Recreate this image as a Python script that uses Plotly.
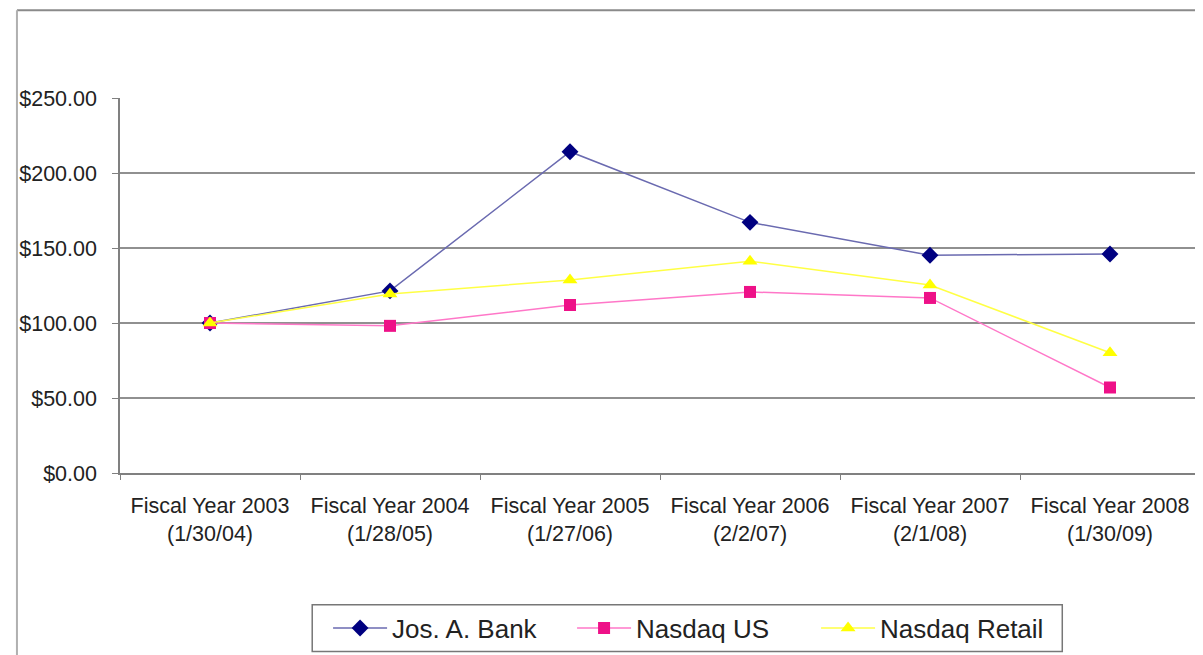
import plotly.graph_objects as go

categories = ["Fiscal Year 2003<br>(1/30/04)", "Fiscal Year 2004<br>(1/28/05)",
              "Fiscal Year 2005<br>(1/27/06)", "Fiscal Year 2006<br>(2/2/07)",
              "Fiscal Year 2007<br>(2/1/08)", "Fiscal Year 2008<br>(1/30/09)"]
jos_a_bank = [100.0, 121.4, 214.2, 167.1, 145.2, 146.0]
nasdaq_us = [100.0, 98.1, 112.0, 120.7, 116.7, 57.0]
nasdaq_retail = [100.0, 119.4, 128.6, 141.2, 125.3, 80.2]
y_ticks = [0, 50, 100, 150, 200, 250]
y_tick_text = ["$0.00", "$50.00", "$100.00", "$150.00", "$200.00", "$250.00"]

FONT = "Liberation Sans, Arial, Helvetica, sans-serif"

fig = go.Figure()
fig.add_trace(go.Scatter(x=categories, y=jos_a_bank, name="Jos. A. Bank", mode="lines+markers",
                         line=dict(color="#6a6ab0", width=1.5),
                         marker=dict(symbol="diamond", size=13, color="#000080")))
fig.add_trace(go.Scatter(x=categories, y=nasdaq_us, name="Nasdaq US", mode="lines+markers",
                         line=dict(color="#ff77c8", width=1.5),
                         marker=dict(symbol="square", size=12, color="#ee1188")))
fig.add_trace(go.Scatter(x=categories, y=nasdaq_retail, name="Nasdaq Retail", mode="lines+markers",
                         line=dict(color="#ffff44", width=1.5),
                         marker=dict(symbol="triangle-up", size=13, color="#ffff00")))

# page offset of the figure inside the browser window (body margin)
OFF = 8
# target screen positions of the plot area
SX0, SX1, SY0, SY1 = 110, 1200, 98, 474
W, H = 1203, 655
L, T = SX0 - OFF, SY0 - OFF
R = W - (SX1 - OFF)
B = H - (SY1 - OFF)
pw, ph = W - L - R, H - T - B

def px_x(sx):
    return (sx - SX0) / pw

def px_y(sy):
    return (SY1 - sy) / ph

fig.update_layout(
    width=W, height=H,
    margin=dict(l=L, r=R, t=T, b=B),
    paper_bgcolor="white", plot_bgcolor="white",
    font=dict(family=FONT, color="#222222"),
    showlegend=True,
    legend=dict(orientation="h", x=px_x(320), xanchor="left",
                y=px_y(606), yanchor="top",
                borderwidth=0, bgcolor="rgba(0,0,0,0)",
                font=dict(size=26, family=FONT, color="#222222"),
                itemwidth=54, entrywidth=175, entrywidthmode="pixels", tracegroupgap=0),
    xaxis=dict(type="category", showgrid=False, showline=True, linecolor="#808080", linewidth=1.5,
               ticks="outside", tickson="boundaries", ticklen=5, tickcolor="#808080",
               tickfont=dict(size=21.5, family=FONT, color="#222222"),
               ticklabelstandoff=12, range=[-0.5, 5.5]),
    yaxis=dict(range=[0, 250], tickvals=y_ticks, ticktext=y_tick_text,
               showgrid=True, gridcolor="#909090", gridwidth=1.5,
               showline=True, linecolor="#808080", linewidth=1.5,
               ticks="outside", ticklen=6, tickcolor="#808080",
               tickfont=dict(size=21.5, family=FONT, color="#222222"),
               ticklabelstandoff=11, zeroline=False),
)

# legend frame
fig.add_shape(type="rect", xref="paper", yref="paper",
              x0=px_x(304), x1=px_x(1061), y0=px_y(606), y1=px_y(653),
              line=dict(color="#777777", width=1.5), fillcolor="rgba(0,0,0,0)", layer="below")

# outer chart border (top and left edges)
fig.add_shape(type="line", xref="paper", yref="paper", x0=px_x(6), x1=px_x(1215),
              y0=px_y(10), y1=px_y(10), line=dict(color="#8a8a8a", width=2))
fig.add_shape(type="line", xref="paper", yref="paper", x0=px_x(6), x1=px_x(6),
              y0=px_y(10), y1=px_y(670), line=dict(color="#b0b0b0", width=2))

fig.write_html("out.html")
